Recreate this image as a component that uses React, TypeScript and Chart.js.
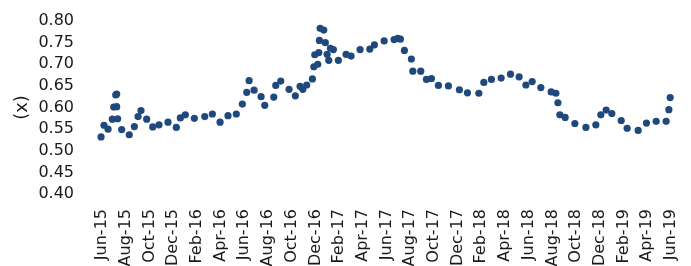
import React, { useEffect, useRef } from "react";
import { Chart, registerables } from "chart.js";

Chart.register(...registerables);

// x: months since Jun-15 ; y: ratio (x)
const obsMonths = [
  -0.17, -0.08, 0.17, 0.51, 0.87, 0.99, 1.16, 1.24, 1.24, 1.32, 1.66, 2.3, 2.73, 3.04, 3.29,
  3.77, 4.28, 4.81, 5.57, 6.27, 6.61, 7.03, 7.79, 8.67, 9.31, 9.96, 10.63, 11.33,
  11.84, 12.21, 12.41, 12.83, 13.42, 13.73, 14.49, 14.66, 15.08, 15.78, 16.31, 16.71, 16.94,
  17.27, 17.75, 17.87, 17.95, 18.2, 18.29, 18.34, 18.4, 18.71, 18.84, 18.99, 19.13, 19.27,
  19.52, 19.94, 20.59, 21.01, 21.77, 22.59, 22.98, 23.8, 24.64, 24.95, 25.17, 25.51, 26.1,
  26.22, 26.89, 27.37, 27.79, 28.38, 29.22, 30.15, 30.83,
  31.79, 32.21, 32.85, 33.67, 34.46, 35.19, 35.76, 36.29, 37.02, 37.89, 38.29, 38.46, 38.62,
  39.07, 39.89, 40.82, 41.66, 42.08, 42.53, 43.01, 43.8, 44.3, 45.23, 45.93, 46.75, 47.59,
  47.82, 47.93,
];
const ratios = [
  0.553, 0.532, 0.559, 0.55, 0.573, 0.601, 0.629, 0.631, 0.602, 0.574, 0.549, 0.537, 0.556,
  0.579, 0.593, 0.573, 0.555, 0.56, 0.566, 0.554, 0.576, 0.583, 0.575, 0.579, 0.585, 0.566,
  0.581, 0.585,
  0.608, 0.635, 0.662, 0.64, 0.625, 0.605, 0.624, 0.651, 0.661, 0.642, 0.627, 0.649, 0.642,
  0.652, 0.666, 0.694, 0.722, 0.7, 0.727, 0.755, 0.783, 0.779, 0.75, 0.723, 0.709, 0.737,
  0.734, 0.709, 0.723, 0.719, 0.734, 0.735, 0.745, 0.754, 0.757, 0.76, 0.758, 0.732, 0.712,
  0.684, 0.684, 0.665, 0.667, 0.651, 0.65, 0.641, 0.634,
  0.633, 0.658, 0.665, 0.668, 0.677, 0.671, 0.652, 0.66, 0.646, 0.636, 0.633, 0.611, 0.583,
  0.577, 0.563, 0.554, 0.56, 0.583, 0.594, 0.586, 0.57, 0.552, 0.547, 0.564, 0.568, 0.568,
  0.595, 0.623,
];
const tickLabels = [
  "Jun-15", "Aug-15", "Oct-15", "Dec-15", "Feb-16", "Apr-16", "Jun-16", "Aug-16", "Oct-16",
  "Dec-16", "Feb-17", "Apr-17", "Jun-17", "Aug-17", "Oct-17", "Dec-17", "Feb-18", "Apr-18",
  "Jun-18", "Aug-18", "Oct-18", "Dec-18", "Feb-19", "Apr-19", "Jun-19",
];
const yTitle = "(x)";

const FONT = "'Century Gothic', 'DejaVu Sans', sans-serif";
const COLOR = "#1F497D";
const TEXT = "#1a1a1a";

export default function App() {
  const ref = useRef<HTMLCanvasElement>(null);
  useEffect(() => {
    document.documentElement.style.overflow = "hidden";
    document.body.style.margin = "0";
    const points = obsMonths.map((m, i) => ({ x: m, y: ratios[i] }));
    const chart = new Chart(ref.current!, {
      type: "scatter",
      data: {
        datasets: [
          {
            data: points,
            backgroundColor: COLOR,
            borderColor: COLOR,
            pointRadius: 3.6,
            borderWidth: 0,
            clip: false,
          } as any,
        ],
      },
      options: {
        animation: false,
        responsive: false,
        layout: { padding: { top: 21, right: 20, left: 0, bottom: 0 } },
        plugins: { legend: { display: false }, tooltip: { enabled: false } },
        scales: {
          x: {
            type: "linear",
            min: 0,
            max: 48,
            grid: { display: false, drawTicks: false },
            border: { display: false },
            afterFit: (s: any) => {
              s.height = 86;
              s.paddingLeft = 0;
              s.paddingRight = 0;
            },
            ticks: {
              stepSize: 2,
              autoSkip: false,
              maxRotation: 90,
              minRotation: 90,
              padding: 15,
              color: TEXT,
              font: { family: FONT, size: 16 },
              callback: (v: any) => tickLabels[Math.round(Number(v) / 2)] ?? "",
            },
          } as any,
          y: {
            min: 0.4,
            max: 0.8,
            grid: { display: false, drawTicks: false },
            border: { display: false },
            afterFit: (s: any) => {
              s.width = 102;
              s.paddingTop = 0;
              s.paddingBottom = 0;
            },
            ticks: {
              stepSize: 0.05,
              autoSkip: false,
              padding: 28,
              color: TEXT,
              font: { family: FONT, size: 16 },
              callback: (v: any) => Number(v).toFixed(2),
            },
            title: {
              display: true,
              text: yTitle,
              color: TEXT,
              font: { family: FONT, size: 18 },
              padding: { top: 12, bottom: 0 },
            },
          },
        },
      },
    });
    return () => chart.destroy();
  }, []);
  return (
    <div style={{ width: 691, height: 280 }}>
      <canvas ref={ref} width={691} height={280} style={{ display: "block" }} />
    </div>
  );
}
